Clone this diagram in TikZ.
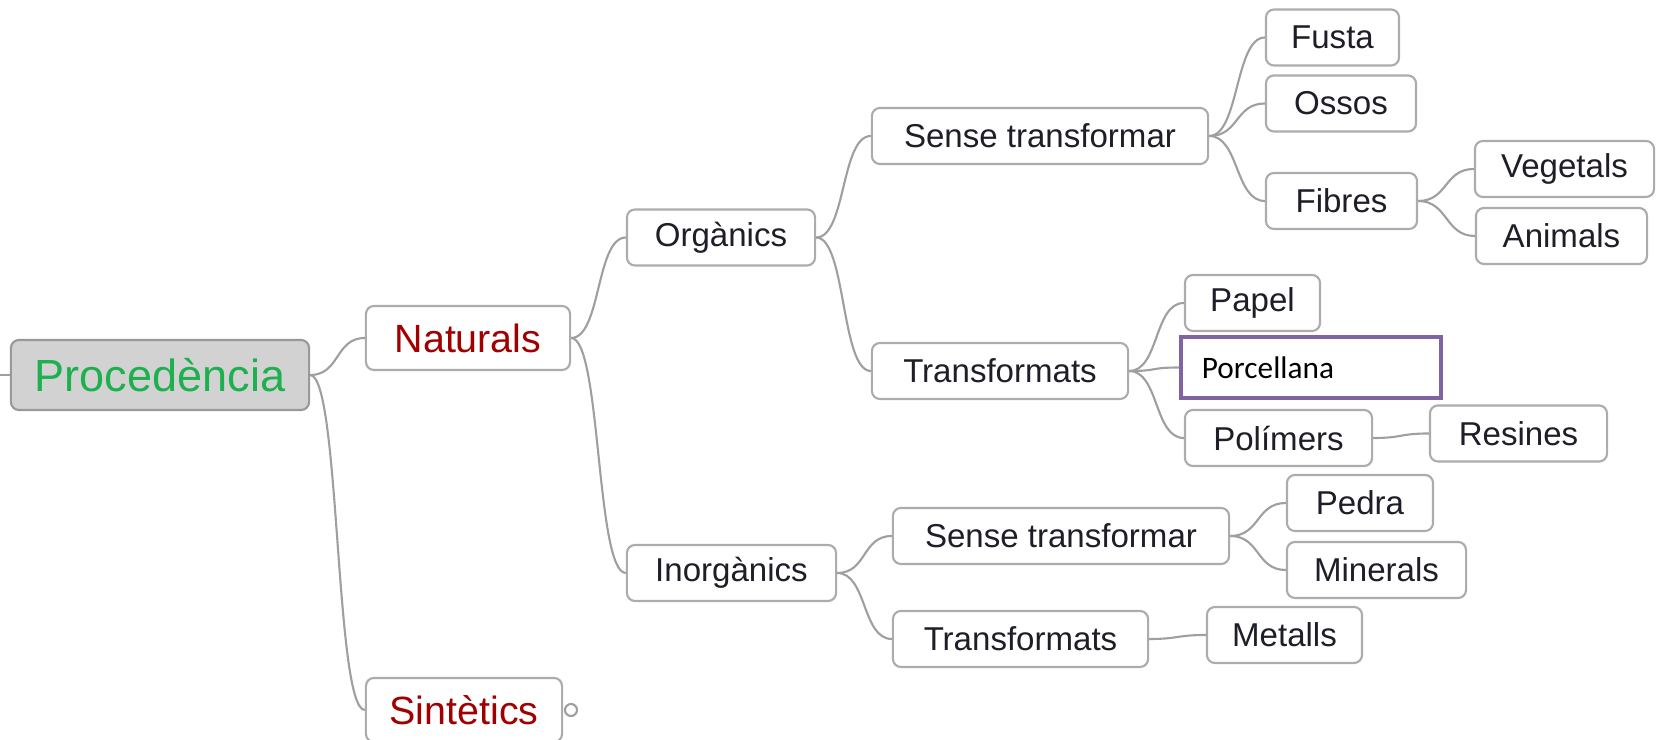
\documentclass[tikz,border=0pt]{standalone}
\usepackage{fontspec}
\setmainfont{Liberation Sans}
\newfontfamily\calibri{Carlito}
\usepackage{tikz}
\definecolor{RootGreen}{HTML}{1DB04E}
\definecolor{NatRed}{HTML}{A00000}
\definecolor{NotePurple}{HTML}{8064A2}
\definecolor{TextDark}{HTML}{1E1E28}

\begin{document}
\begin{tikzpicture}[
  x=0.01cm, y=-0.01cm,
  topic/.style={draw=gray!65,fill=white,rounded corners=0.08cm,line width=0.6pt,
    inner sep=0pt,minimum height=0.56cm,text=TextDark,font=\fontsize{9.4}{11}\selectfont},
  main/.style={topic,minimum height=0.64cm,text=NatRed,font=\fontsize{11.2}{13}\selectfont},
  root/.style={topic,draw=gray!80,fill=gray!35,minimum height=0.70cm,text=RootGreen,
    font=\fontsize{12.8}{15}\selectfont},
  notebox/.style={draw=NotePurple,fill=white,line width=1.2pt,inner ysep=0pt,inner xsep=0.21cm,
    minimum height=0.61cm,text width=2.18cm,text=black,font=\calibri\fontsize{8.9}{11}\selectfont},
  branch/.style={draw=gray!75,line width=0.6pt}
]
\useasboundingbox (0,0) rectangle (1656,740);

% root and first level
\node[root,minimum width=2.98cm] (root) at (160,375) {Procedència};
\node[main,minimum width=2.04cm] (nat) at (468,338) {Naturals};
\node[main,minimum width=1.96cm] (sint) at (464,710) {Sintètics};
\node[draw=gray!75,fill=white,circle,line width=0.6pt,inner sep=0pt,minimum size=0.12cm] (sintdot) at (571,710) {};
\coordinate (stub) at (0,375);

% second level
\node[topic,minimum width=1.88cm] (org) at (721,237.5) {Orgànics};
\node[topic,minimum width=2.09cm] (inorg) at (731.5,573) {Inorgànics};

% organic materials
\node[topic,minimum width=3.36cm] (orgraw) at (1040,136) {Sense transformar};
\node[topic,minimum width=2.56cm] (orgtr) at (1000,371) {Transformats};
\node[topic,minimum width=1.33cm] (fusta) at (1332.5,37.5) {Fusta};
\node[topic,minimum width=1.50cm] (ossos) at (1341,103.5) {Ossos};
\node[topic,minimum width=1.51cm] (fibres) at (1341.5,201) {Fibres};
\node[topic,minimum width=1.79cm] (veg) at (1564.5,169) {Vegetals};
\node[topic,minimum width=1.71cm] (anim) at (1561.5,236) {Animals};
\node[topic,minimum width=1.35cm] (papel) at (1252.5,303) {Papel};
\node[notebox] (porc) at (1311,367.5) {Porcellana};
\node[topic,minimum width=1.87cm] (polim) at (1278.5,438) {Polímers};
\node[topic,minimum width=1.77cm] (resines) at (1518.5,433.5) {Resines};

% inorganic materials
\node[topic,minimum width=3.36cm] (inraw) at (1061,536) {Sense transformar};
\node[topic,minimum width=2.55cm] (intr) at (1020.5,639) {Transformats};
\node[topic,minimum width=1.46cm] (pedra) at (1360,503) {Pedra};
\node[topic,minimum width=1.79cm] (miner) at (1376.5,570) {Minerals};
\node[topic,minimum width=1.55cm] (metalls) at (1284.5,635) {Metalls};

% connectors
\draw[branch] (stub) -- (root.west);
\foreach \a/\b in {root/nat,root/sint,nat/org,nat/inorg,org/orgraw,org/orgtr,
  orgraw/fusta,orgraw/ossos,orgraw/fibres,fibres/veg,fibres/anim,
  orgtr/papel,orgtr/porc,orgtr/polim,polim/resines,
  inorg/inraw,inorg/intr,inraw/pedra,inraw/miner,intr/metalls} {
  \draw[branch] (\a.east) to[out=0,in=180,distance=0.3cm] (\b.west);
}

\end{tikzpicture}
\end{document}
